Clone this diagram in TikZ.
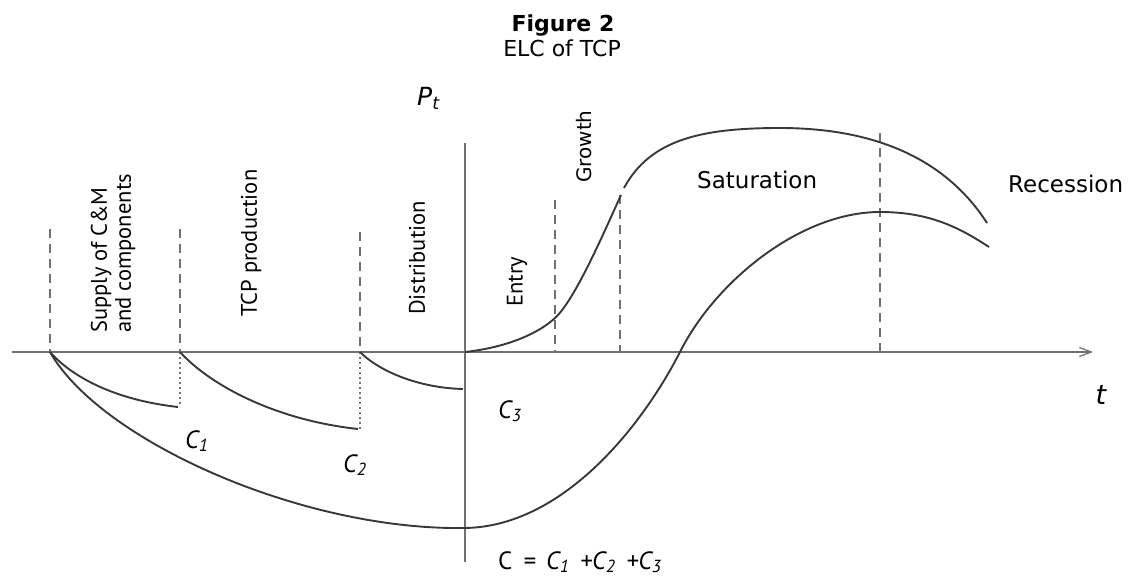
\documentclass[tikz,border=0pt]{standalone}
\usepackage{fontspec}
\setmainfont{DejaVu Sans}
\newfontfamily\phasefont{PT Sans}
\usepackage{xcolor}
\usetikzlibrary{arrows.meta}

\definecolor{curvegray}{HTML}{383838}
\definecolor{axisgray}{HTML}{707070}

\begin{document}
\begin{tikzpicture}[x=1pt, y=-1pt,
  curve/.style={draw=curvegray, line width=1.9pt},
  axisline/.style={draw=axisgray, line width=1.2pt},
  stageline/.style={draw=axisgray, line width=1.1pt, dash pattern=on 9pt off 6pt},
  costline/.style={draw=axisgray, line width=1.1pt, dash pattern=on 2pt off 3pt},
  phase/.style={font=\phasefont\fontsize{22.5}{24}\selectfont, rotate=90, anchor=west, inner sep=0pt, align=left},
  stagelabel/.style={font=\fontsize{23}{26}\selectfont, inner sep=0pt, anchor=base west},
  costlabel/.style={font=\phasefont\itshape\fontsize{25}{28}\selectfont, inner sep=0pt, anchor=base west}]

\useasboundingbox (0,0) rectangle (1131,580);
\def\ax{352}

% Title
\node[font=\bfseries\fontsize{22}{26}\selectfont, anchor=base] (fig) at (563,32) {Figure 2};
\node[font=\fontsize{22}{26}\selectfont, anchor=base] (cap) at (562,57) {ELC of TCP};

% Axes
\coordinate (O) at (465,\ax);
\coordinate (tl) at (12,\ax);
\coordinate (tr) at (1093,\ax);
\coordinate (ptop) at (465,143);
\coordinate (pbot) at (465,562);
\draw[axisline, -{Straight Barb[length=12pt, width=9pt]}] (tl) -- (tr);
\draw[axisline] (pbot) -- (ptop);
\node[font=\itshape\fontsize{25}{28}\selectfont, anchor=base west, inner sep=0pt] (Pt) at (417,106) {P\textsubscript{t}};
\node[font=\itshape\fontsize{27}{30}\selectfont, anchor=base, inner sep=0pt] (tlab) at (1101,404) {t};

% Stage boundaries (dashed above the axis, dotted below)
\foreach \x/\top [count=\i] in {50/229, 180/229, 360/232, 555/200, 620/195, 880/133} {
  \coordinate (st\i) at (\x,\top);
  \coordinate (sb\i) at (\x,\ax);
  \draw[stageline] (st\i) -- (sb\i);
}
\foreach \x/\bot [count=\i] in {180/407, 360/429} {
  \coordinate (ca\i) at (\x,\ax);
  \coordinate (cb\i) at (\x,\bot);
  \draw[costline] (ca\i) -- (cb\i);
}

% Stage costs
\coordinate (a1) at (50,\ax);  \coordinate (b1) at (178,407);
\coordinate (a2) at (180,\ax); \coordinate (b2) at (358,429);
\coordinate (a3) at (360,\ax); \coordinate (b3) at (463,389);
\draw[curve] (a1) .. controls (72,377) and (115,400) .. (b1);
\draw[curve] (a2) .. controls (210,385) and (275,420) .. (b2);
\draw[curve] (a3) .. controls (380,372) and (420,388) .. (b3);

% Total cost and return
\coordinate (cmin) at (463,528);
\coordinate (cx) at (680,\ax);
\coordinate (cmax) at (880,212);
\coordinate (cend) at (989,247);
\draw[curve] (a1) .. controls (100,440) and (300,530) .. (cmin)
  .. controls (560,528) and (640,430) .. (cx)
  .. controls (715,282) and (800,212) .. (cmax)
  .. controls (930,212) and (960,228) .. (cend);

% Market curve
\coordinate (g1) at (555,318);
\coordinate (g2) at (621,195);
\coordinate (g3) at (624,188);
\coordinate (m) at (780,128);
\coordinate (pend) at (987,223);
\draw[curve] (O) .. controls (510,347) and (540,332) .. (g1)
  .. controls (575,300) and (605,230) .. (g2);
\draw[curve] (g3) .. controls (650,140) and (700,128) .. (m)
  .. controls (860,128) and (940,150) .. (pend);

% Stage labels
\node[phase] (supply) at (113,333) {Supply of C\&M\\and components};
\node[phase] (prod) at (251,317) {TCP production};
\node[phase] (distr) at (417,315) {Distribution};
\node[phase] (entry) at (517,307) {Entry};
\node[phase, font=\fontsize{20}{24}\selectfont] (growth) at (584,183) {Growth};
\node[stagelabel] (sat) at (697,189) {Saturation};
\node[stagelabel] (rec) at (1008,193) {Recession};

% Cost labels
\node[costlabel] (c1) at (185,448) {C\textsubscript{1}};
\node[costlabel] (c2) at (343,472) {C\textsubscript{2}};
\node[costlabel] (c3) at (498,418) {C\textsubscript{3}};
\node[costlabel] (csum) at (498,569) {{\upshape C} \,=\, C\textsubscript{1} \,+C\textsubscript{2} \,+C\textsubscript{3}};

\end{tikzpicture}
\end{document}
